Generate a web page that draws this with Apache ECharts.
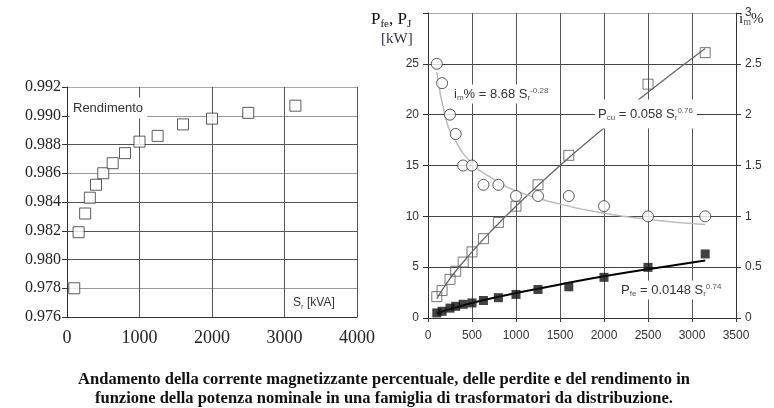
<!DOCTYPE html>
<html>
<head>
<meta charset="utf-8">
<script src="https://cdn.jsdelivr.net/npm/echarts@6/dist/echarts.min.js"></script>
<style>
  html, body { margin: 0; padding: 0; background: #fff; }
  #chart { width: 774px; height: 408px; }
</style>
</head>
<body>
<div id="chart"></div>
<script>
// potenze nominali [kVA]
const sizes = [100, 160, 250, 315, 400, 500, 630, 800, 1000, 1250, 1600, 2000, 2500, 3150]
const efficiency = [0.9780, 0.9819, 0.9832, 0.9843, 0.9852, 0.9860, 0.9867, 0.9874, 0.9882, 0.9886, 0.9894, 0.9898, 0.9902, 0.9907]
const imPercent = [2.5, 2.31, 2.0, 1.81, 1.5, 1.5, 1.31, 1.31, 1.2, 1.2, 1.2, 1.1, 1.0, 1.0]
const pCu = [2.1, 2.7, 3.8, 4.6, 5.5, 6.5, 7.8, 9.4, 11.0, 13.1, 16.0, 19.5, 23.0, 26.1]
const pFe = [0.5, 0.66, 0.97, 1.15, 1.35, 1.48, 1.72, 2.0, 2.32, 2.8, 3.07, 4.0, 4.98, 6.3]

// curve di regressione
const fitX = [100, 200, 300, 500, 700, 1000, 1500, 2000, 2500, 3150]
const imFit = [2.42, 1.97, 1.76, 1.52, 1.39, 1.25, 1.12, 1.03, 0.97, 0.92]
const pCuFit = [1.9, 3.25, 4.45, 6.5, 8.4, 11.0, 15.0, 18.7, 22.2, 26.5]
const pFeFit = [0.45, 0.75, 1.0, 1.47, 1.9, 2.45, 3.3, 4.1, 4.8, 5.65]

const pairs = (xs, ys) => xs.map((x, i) => [x, ys[i]])

const serif = "'Liberation Serif', 'DejaVu Serif', serif"
const sans = "'Liberation Sans', Arial, sans-serif"

const chart = echarts.init(document.getElementById('chart'), null, { renderer: 'canvas' })

// testo con pedici / apici (rich text)
const makeRich = (size) => ({
    n: { fontSize: size, fontFamily: sans, fill: '#333', lineHeight: 15 },
    sub: { fontSize: 8, fontFamily: sans, fill: '#555', lineHeight: 8, verticalAlign: 'bottom' },
    sup: { fontSize: 8, fontFamily: sans, fill: '#555', lineHeight: 8, verticalAlign: 'top' }
})
const label = (x, y, text, size, pad) => ({
    type: 'text',
    z: 100,
    x: x,
    y: y,
    style: {
        text: text,
        rich: makeRich(size),
        backgroundColor: '#fff',
        padding: pad,
        align: 'left',
        verticalAlign: 'middle'
    }
})

const option = {
    backgroundColor: '#fff',
    animation: false,
    grid: [
        { left: 67, top: 87, width: 290, height: 230 },
        { left: 428, top: 13, width: 308, height: 305 }
    ],
    xAxis: [
        {
            gridIndex: 0, type: 'value', min: 0, max: 4000, interval: 1000,
            axisLine: { lineStyle: { color: '#333' } },
            axisTick: { show: false },
            splitLine: { lineStyle: { color: '#555' } },
            axisLabel: { fontFamily: serif, fontSize: 18, color: '#222', margin: 12, formatter: v => String(v) }
        },
        {
            gridIndex: 1, type: 'value', min: 0, max: 3500, interval: 500,
            axisLine: { lineStyle: { color: '#333' } },
            axisTick: { show: true, length: 4, lineStyle: { color: '#333' } },
            splitLine: { lineStyle: { color: '#555' } },
            axisLabel: { fontFamily: sans, fontSize: 12, color: '#333', margin: 12, formatter: v => String(v) }
        }
    ],
    yAxis: [
        {
            gridIndex: 0, type: 'value', min: 0.976, max: 0.992, interval: 0.002,
            axisLine: { show: true, lineStyle: { color: '#333' } },
            axisTick: { show: true, length: 5, lineStyle: { color: '#333' } },
            splitLine: { lineStyle: { color: ['#555', '#999', '#555', '#555', '#555', '#999', '#555', '#999', '#aaa'] } },
            axisLabel: {
                fontFamily: serif, fontSize: 16, color: '#222', margin: 6,
                formatter: v => v.toFixed(3)
            }
        },
        {
            gridIndex: 1, type: 'value', min: 0, max: 30, interval: 5, position: 'left',
            axisLine: { show: true, lineStyle: { color: '#333' } },
            axisTick: { show: true, length: 5, lineStyle: { color: '#333' } },
            splitLine: { lineStyle: { color: ['#444', '#444', '#444', '#444', '#444', '#444', '#aaa'] } },
            axisLabel: {
                fontFamily: sans, fontSize: 12, color: '#333', margin: 9,
                formatter: v => (v === 30 ? '' : String(v))
            }
        },
        {
            gridIndex: 1, type: 'value', min: 0, max: 3, interval: 0.5, position: 'right',
            axisLine: { show: true, lineStyle: { color: '#333' } },
            axisTick: { show: true, length: 5, lineStyle: { color: '#333' } },
            splitLine: { show: false },
            axisLabel: { fontFamily: sans, fontSize: 12, color: '#333', margin: 9 }
        }
    ],
    series: [
        {
            name: 'Rendimento', type: 'scatter', xAxisIndex: 0, yAxisIndex: 0,
            symbol: 'rect', symbolSize: 11,
            itemStyle: { color: '#fff', borderColor: '#333', borderWidth: 1 },
            data: pairs(sizes, efficiency)
        },
        {
            name: 'Pcu', type: 'scatter', xAxisIndex: 1, yAxisIndex: 1,
            symbol: 'rect', symbolSize: 10, z: 2,
            itemStyle: { color: 'rgba(255,255,255,0)', borderColor: '#555', borderWidth: 1 },
            data: pairs(sizes, pCu)
        },
        {
            name: 'Pcu fit', type: 'line', xAxisIndex: 1, yAxisIndex: 1,
            smooth: true, showSymbol: false, z: 3,
            lineStyle: { color: '#666', width: 1.3 },
            data: pairs(fitX, pCuFit)
        },
        {
            name: 'im fit', type: 'line', xAxisIndex: 1, yAxisIndex: 2,
            smooth: true, showSymbol: false, z: 3,
            lineStyle: { color: '#bbb', width: 1.5 },
            data: pairs(fitX, imFit)
        },
        {
            name: 'im%', type: 'scatter', xAxisIndex: 1, yAxisIndex: 2,
            symbol: 'circle', symbolSize: 11, z: 4,
            itemStyle: { color: '#fff', borderColor: '#333', borderWidth: 1 },
            data: pairs(sizes, imPercent)
        },
        {
            name: 'Pfe fit', type: 'line', xAxisIndex: 1, yAxisIndex: 1,
            smooth: true, showSymbol: false, z: 3,
            lineStyle: { color: '#000', width: 2 },
            data: pairs(fitX, pFeFit)
        },
        {
            name: 'Pfe', type: 'scatter', xAxisIndex: 1, yAxisIndex: 1,
            symbol: 'rect', symbolSize: 9, z: 4,
            itemStyle: { color: '#111' },
            data: pairs(sizes, pFe)
        }
    ],
    graphic: [
        label(70, 108, '{n|Rendimento}', 13, [3, 4, 3, 3]),
        label(291, 303, '{n|S}{sub|r}{n| [kVA]}', 12, [2, 3, 2, 2]),
        label(451, 94, '{n|i}{sub|m}{n|% = 8.68 S}{sub|r}{sup|-0.28}', 13, [2, 3, 2, 3]),
        label(595, 114, '{n|P}{sub|cu}{n| = 0.058 S}{sub|r}{sup|0.76}', 13, [7, 4, 7, 3]),
        label(618, 290, '{n|P}{sub|fe}{n| = 0.0148 S}{sub|r}{sup|0.74}', 13, [2, 3, 2, 3]),
        {
            type: 'text', z: 100, x: 371, y: 20,
            style: {
                text: '{t|P}{s|fe}{t|, P}{s|J}',
                rich: {
                    t: { fontSize: 17, fontFamily: serif, fill: '#111', lineHeight: 20 },
                    s: { fontSize: 11, fontFamily: serif, fill: '#111', lineHeight: 11, verticalAlign: 'bottom' }
                },
                align: 'left', verticalAlign: 'middle'
            }
        },
        {
            type: 'text', z: 100, x: 381, y: 39,
            style: { text: '[kW]', font: "15px " + serif, fill: '#334', align: 'left', verticalAlign: 'middle' }
        },
        {
            type: 'text', z: 100, x: 739, y: 19,
            style: {
                text: '{t|i}{s|m}{t|%}',
                rich: {
                    t: { fontSize: 15, fontFamily: serif, fill: '#222', lineHeight: 17 },
                    s: { fontSize: 10, fontFamily: serif, fill: '#555', lineHeight: 10, verticalAlign: 'bottom' }
                },
                align: 'left', verticalAlign: 'middle'
            }
        },
        {
            type: 'text', z: 100, x: 384, y: 380,
            style: {
                text: 'Andamento della corrente magnetizzante percentuale, delle perdite e del rendimento in',
                font: "bold 16.5px " + serif, fill: '#111', align: 'center', verticalAlign: 'middle'
            }
        },
        {
            type: 'text', z: 100, x: 384, y: 399,
            style: {
                text: 'funzione della potenza nominale in una famiglia di trasformatori da distribuzione.',
                font: "bold 16.5px " + serif, fill: '#111', align: 'center', verticalAlign: 'middle'
            }
        }
    ]
}

chart.setOption(option)
</script>
</body>
</html>
